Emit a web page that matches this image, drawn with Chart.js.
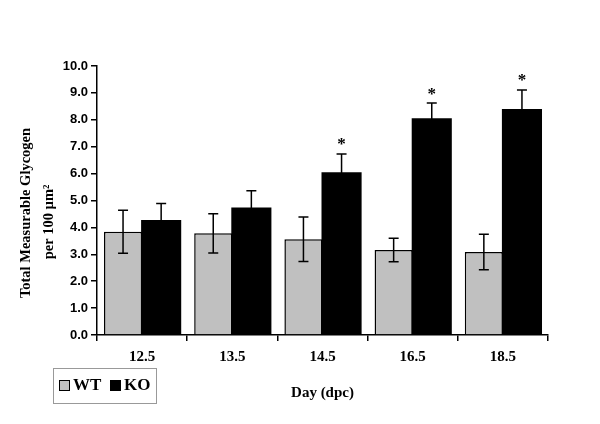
<!DOCTYPE html>
<html>
<head>
<meta charset="utf-8">
<script src="https://cdn.jsdelivr.net/npm/chart.js@4"></script>
<style>
  html, body { margin: 0; padding: 0; background: #fff; }
  #wrap { width: 600px; height: 424px; }
</style>
</head>
<body>
<div id="wrap"><canvas id="chart" width="600" height="424"></canvas></div>
<script>
// Daten
const days = ['12.5', '13.5', '14.5', '16.5', '18.5'];
const wtValues = [3.84, 3.78, 3.56, 3.16, 3.09];
const wtErrors = [0.80, 0.73, 0.83, 0.44, 0.66];
const koValues = [4.24, 4.70, 6.01, 8.02, 8.36];
const koErrors = [0.65, 0.66, 0.72, 0.60, 0.75];
const koSignificant = [false, false, true, true, true];
const yTicks = [0, 1, 2, 3, 4, 5, 6, 7, 8, 9, 10];
const yTitleLines = ['Total Measurable Glycogen', 'per 100 µm²'];

const serifBold = { family: '"Liberation Serif", "Times New Roman", serif', weight: 'bold' };

// Fehlerbalken und Sternchen
const errorBarPlugin = {
    id: 'errorBars',
    afterDatasetsDraw(chart) {
        const ctx = chart.ctx;
        const y = chart.scales.y;
        const sets = [
            { idx: 0, vals: wtValues, errs: wtErrors },
            { idx: 1, vals: koValues, errs: koErrors }
        ];
        ctx.save();
        ctx.strokeStyle = '#000';
        ctx.lineWidth = 1.5;
        sets.forEach(s => {
            const meta = chart.getDatasetMeta(s.idx);
            meta.data.forEach((bar, i) => {
                const top = y.getPixelForValue(s.vals[i] + s.errs[i]);
                const bot = y.getPixelForValue(s.vals[i] - s.errs[i]);
                ctx.beginPath();
                ctx.moveTo(bar.x, top); ctx.lineTo(bar.x, bot);
                ctx.moveTo(bar.x - 5, top); ctx.lineTo(bar.x + 5, top);
                ctx.moveTo(bar.x - 5, bot); ctx.lineTo(bar.x + 5, bot);
                ctx.stroke();
                if (s.idx === 1 && koSignificant[i]) {
                    ctx.fillStyle = '#000';
                    ctx.font = 'bold 17px "Liberation Serif", serif';
                    ctx.textAlign = 'center';
                    ctx.textBaseline = 'middle';
                    ctx.fillText('*', bar.x, top - 9);
                }
            });
        });
        ctx.restore();
    }
};

// Legende unten links mit Rahmen, Y-Achsentitel
const boxLegendPlugin = {
    id: 'boxLegend',
    afterDraw(chart) {
        const ctx = chart.ctx;
        ctx.save();
        ctx.strokeStyle = '#999';
        ctx.lineWidth = 1;
        ctx.strokeRect(53.5, 368.5, 103, 35);
        ctx.font = 'bold 17px "Liberation Serif", serif';
        ctx.textBaseline = 'middle';
        ctx.textAlign = 'left';
        const items = [
            { x: 59, label: 'WT', color: '#c0c0c0' },
            { x: 110, label: 'KO', color: '#000' }
        ];
        items.forEach(it => {
            ctx.fillStyle = it.color;
            ctx.fillRect(it.x, 380, 11, 11);
            ctx.strokeStyle = '#000';
            ctx.strokeRect(it.x + 0.5, 380.5, 10, 10);
            ctx.fillStyle = '#000';
            ctx.fillText(it.label, it.x + 14, 386);
        });

        // Y-Achsentitel, zwei Zeilen gedreht
        ctx.fillStyle = '#000';
        ctx.font = 'bold 14.5px "Liberation Serif", serif';
        ctx.textAlign = 'center';
        ctx.textBaseline = 'middle';
        const pos = [{ x: 26, y: 213 }, { x: 49, y: 222 }];
        yTitleLines.forEach((t, i) => {
            ctx.save();
            ctx.translate(pos[i].x, pos[i].y);
            ctx.rotate(-Math.PI / 2);
            ctx.fillText(t, 0, 0);
            ctx.restore();
        });
        ctx.restore();
    }
};

new Chart(document.getElementById('chart'), {
    type: 'bar',
    data: {
        labels: days,
        datasets: [
            {
                label: 'WT',
                data: wtValues,
                backgroundColor: '#c0c0c0',
                borderColor: '#000',
                borderWidth: 1.5,
                barPercentage: 1.0,
                categoryPercentage: 0.845
            },
            {
                label: 'KO',
                data: koValues,
                backgroundColor: '#000',
                borderColor: '#000',
                borderWidth: 0,
                inflateAmount: 1,
                barPercentage: 1.0,
                categoryPercentage: 0.845
            }
        ]
    },
    options: {
        responsive: false,
        animation: false,
        layout: { padding: { top: 66, right: 52, bottom: 22, left: 0 } },
        plugins: {
            legend: { display: false },
            tooltip: { enabled: false }
        },
        scales: {
            x: {
                offset: true,
                grid: { offset: true, drawOnChartArea: false, tickLength: 6, color: '#000', lineWidth: 1.5 },
                border: { color: '#000', width: 1.5 },
                ticks: { color: '#000', padding: 7, font: { ...serifBold, size: 15 } },
                title: {
                    display: true,
                    text: 'Day (dpc)',
                    color: '#000',
                    font: { ...serifBold, size: 15 },
                    padding: { top: 10, bottom: 0 }
                },
                afterFit(scale) { scale.height = 67; }
            },
            y: {
                min: 0,
                max: 10,
                afterBuildTicks(scale) { scale.ticks = yTicks.map(v => ({ value: v })); },
                grid: { drawOnChartArea: false, tickLength: 6, color: '#000', lineWidth: 1.5 },
                border: { color: '#000', width: 1.5 },
                ticks: {
                    color: '#000',
                    padding: 3,
                    font: { family: '"Liberation Sans", Arial, sans-serif', weight: 'bold', size: 13 },
                    callback: v => Number(v).toFixed(1)
                },
                afterFit(scale) { scale.width = 97; }
            }
        }
    },
    plugins: [errorBarPlugin, boxLegendPlugin]
});
</script>
</body>
</html>
